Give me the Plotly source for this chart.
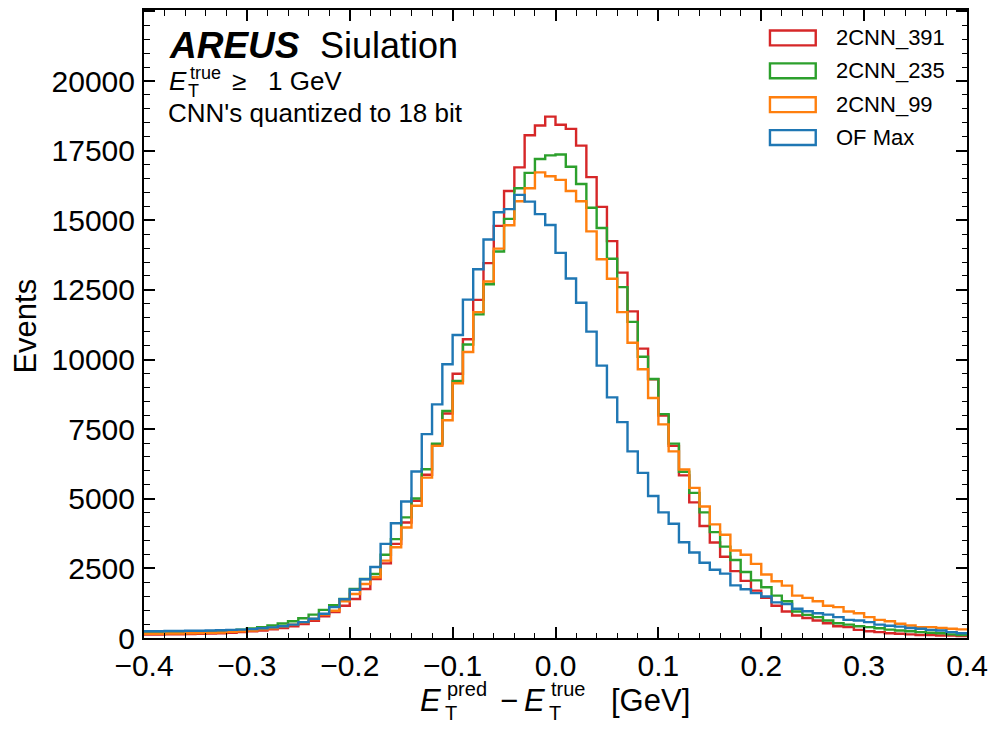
import plotly.graph_objects as go
import numpy as np

# bin edges: -0.40 .. 0.40 in steps of 0.01 (80 bins)
bin_lo = -0.40
bin_w = 0.01
n_bins = 80

# counts per bin (in thousands)
cnn391 = [0.12, 0.12, 0.13, 0.13, 0.14, 0.15, 0.16, 0.17, 0.19, 0.21,
          0.24, 0.27, 0.31, 0.36, 0.42, 0.50, 0.62, 0.78, 0.93, 1.16,
          1.40, 1.76, 2.12, 2.68, 3.38, 4.15, 4.93, 5.86, 6.95, 8.06,
          9.49, 10.73, 12.14, 13.46, 14.80, 16.05, 16.90, 18.05, 18.40, 18.72,
          18.43, 18.28, 17.68, 16.55, 15.48, 14.25, 13.12, 11.73, 10.39, 9.29,
          7.99, 6.90, 5.84, 4.87, 4.02, 3.43, 2.92, 2.40, 2.05, 1.70,
          1.44, 1.16, 0.95, 0.81, 0.72, 0.63, 0.53, 0.42, 0.39, 0.29,
          0.24, 0.21, 0.17, 0.15, 0.13, 0.11, 0.11, 0.09, 0.09, 0.07]

cnn235 = [0.18, 0.19, 0.19, 0.20, 0.21, 0.22, 0.23, 0.25, 0.27, 0.30,
          0.34, 0.39, 0.45, 0.52, 0.60, 0.71, 0.84, 1.01, 1.18, 1.40,
          1.76, 2.12, 2.30, 2.99, 3.55, 4.33, 5.01, 6.06, 6.98, 8.15,
          9.23, 10.54, 11.62, 12.70, 13.88, 15.05, 16.15, 16.70, 17.20, 17.33,
          17.36, 16.92, 16.30, 15.45, 14.72, 13.62, 12.60, 11.35, 10.10, 9.30,
          8.04, 6.98, 5.97, 5.21, 4.51, 3.80, 3.28, 2.80, 2.37, 2.07,
          1.82, 1.52, 1.32, 0.95, 0.83, 0.75, 0.63, 0.53, 0.48, 0.42,
          0.39, 0.35, 0.30, 0.27, 0.24, 0.21, 0.19, 0.17, 0.13, 0.11]

cnn99 = [0.15, 0.15, 0.16, 0.16, 0.17, 0.18, 0.19, 0.20, 0.22, 0.24,
         0.27, 0.31, 0.35, 0.41, 0.48, 0.56, 0.68, 0.84, 0.98, 1.32,
         1.58, 1.94, 2.18, 2.78, 3.26, 3.97, 4.75, 5.76, 6.90, 7.82,
         9.15, 10.27, 11.70, 12.80, 13.98, 14.82, 15.68, 16.15, 16.72, 16.58,
         16.45, 16.05, 15.68, 14.60, 13.60, 12.90, 11.70, 10.60, 9.65, 8.62,
         7.67, 6.70, 6.05, 5.39, 4.72, 4.08, 3.71, 3.14, 2.99, 2.66,
         2.28, 2.04, 1.88, 1.52, 1.44, 1.32, 1.16, 1.11, 0.95, 0.89,
         0.75, 0.65, 0.60, 0.51, 0.45, 0.39, 0.39, 0.36, 0.33, 0.31]

ofmax = [0.24, 0.24, 0.25, 0.25, 0.26, 0.26, 0.27, 0.28, 0.29, 0.30,
         0.32, 0.35, 0.38, 0.42, 0.48, 0.57, 0.69, 0.87, 1.11, 1.39,
         1.73, 2.11, 2.55, 3.38, 4.12, 4.90, 5.98, 7.32, 8.39, 9.83,
         10.88, 12.15, 13.24, 14.31, 15.29, 15.40, 15.91, 15.67, 15.22, 14.83,
         13.83, 12.91, 12.04, 11.00, 9.78, 8.64, 7.75, 6.70, 5.93, 5.10,
         4.51, 4.10, 3.44, 3.07, 2.70, 2.45, 2.31, 1.89, 1.75, 1.61,
         1.49, 1.28, 1.22, 1.05, 0.96, 0.89, 0.84, 0.75, 0.65, 0.63,
         0.57, 0.48, 0.44, 0.41, 0.36, 0.33, 0.29, 0.27, 0.21, 0.17]

series_names = ["2CNN_391", "2CNN_235", "2CNN_99", "OF Max"]
series_vals = [cnn391, cnn235, cnn99, ofmax]
series_colors = ["#d62728", "#2ca02c", "#ff7f0e", "#1f77b4"]

edges = [round(bin_lo + i * bin_w, 4) for i in range(n_bins + 1)]

W, H = 996, 729
L, R, T, B = 144, 971, 8, 638
Y_MAX = 22550


def px(x):
    return (x - L) / (R - L)


def py(y):
    return (B - y) / (B - T)


fig = go.Figure()
for name, vals, col in zip(series_names, series_vals, series_colors):
    counts = [v * 1000 for v in vals]
    fig.add_trace(go.Scatter(
        x=edges, y=counts + [counts[-1]], mode="lines",
        line=dict(color=col, width=2.4, shape="hv"),
        name=name, showlegend=False, hoverinfo="skip"))

# dummy trace for mirrored top/right axes
fig.add_trace(go.Scatter(x=[], y=[], xaxis="x2", yaxis="y2", showlegend=False))

FONT = "Liberation Sans, Arial, sans-serif"
tickfont = dict(family=FONT, size=30, color="black")

fig.update_layout(
    width=W, height=H,
    margin=dict(l=L, r=W - R, t=T, b=H - B, pad=0),
    plot_bgcolor="white", paper_bgcolor="white",
    showlegend=False,
    xaxis=dict(range=[-0.4, 0.4], tick0=-0.4, dtick=0.1, tickformat=".1f",
               ticks="inside", ticklen=11, tickwidth=1.6, tickcolor="black",
               minor=dict(dtick=0.02, tick0=-0.4, ticks="inside", ticklen=5.5,
                          tickwidth=1.2, tickcolor="black", showgrid=False),
               showline=True, linecolor="black", linewidth=2, mirror=True,
               showgrid=False, zeroline=False, tickfont=tickfont,
               ticklabelstandoff=0),
    yaxis=dict(range=[0, Y_MAX], tick0=0, dtick=2500, tickformat="d",
               ticks="inside", ticklen=11, tickwidth=1.6, tickcolor="black",
               minor=dict(dtick=500, tick0=0, ticks="inside", ticklen=5.5,
                          tickwidth=1.2, tickcolor="black", showgrid=False),
               showline=True, linecolor="black", linewidth=2, mirror=True,
               showgrid=False, zeroline=False, tickfont=tickfont,
               ticklabelstandoff=1),
    xaxis2=dict(range=[-0.4, 0.4], overlaying="x", side="top", tick0=-0.4, dtick=0.1,
                ticks="inside", ticklen=11, tickwidth=1.6, tickcolor="black",
                minor=dict(dtick=0.02, tick0=-0.4, ticks="inside", ticklen=5.5,
                           tickwidth=1.2, tickcolor="black"),
                showticklabels=False, showgrid=False, zeroline=False, showline=False),
    yaxis2=dict(range=[0, Y_MAX], overlaying="y", side="right", tick0=0, dtick=2500,
                ticks="inside", ticklen=11, tickwidth=1.6, tickcolor="black",
                minor=dict(dtick=500, tick0=0, ticks="inside", ticklen=5.5,
                           tickwidth=1.2, tickcolor="black"),
                showticklabels=False, showgrid=False, zeroline=False, showline=False),
)

ann = []


def text(x, y, s, size, xanchor="left", yanchor="middle", angle=0):
    ann.append(dict(x=px(x), y=py(y), xref="paper", yref="paper", text=s,
                    showarrow=False, xanchor=xanchor, yanchor=yanchor,
                    textangle=angle, font=dict(family=FONT, size=size, color="black")))


# experiment label
text(167, 44, "<b><i>AREUS</i></b>", 37)
text(319, 44, "Siulation", 36)
# E_T^true >= 1 GeV
text(167, 79, "<i>E</i>", 26)
text(188, 71, "true", 18)
text(186, 89, "T", 18)
text(230, 79, "\u2265", 26)
text(267, 79, "1 GeV", 26)
text(166, 111, "CNN's quantized to 18 bit", 26)

# y-axis title
text(25, 325, "Events", 31, xanchor="center", angle=-90)

# x-axis title: E_T^pred - E_T^true [GeV]
xt_y = 701
text(419, xt_y, "<i>E</i>", 31)
text(446, xt_y - 12, "pred", 20)
text(444, xt_y + 12, "T", 20)
text(500, xt_y, "\u2212", 31)
text(524, xt_y, "<i>E</i>", 31)
text(551, xt_y - 12, "true", 20)
text(549, xt_y + 12, "T", 20)
text(611, xt_y, "[GeV]", 31)

# legend (manual)
shapes = []
leg_y = [36, 69, 103, 136]
for name, col, yy in zip(series_names, series_colors, leg_y):
    shapes.append(dict(type="rect", xref="paper", yref="paper",
                       x0=px(773), x1=px(819), y0=py(yy - 7.5), y1=py(yy + 7.5),
                       line=dict(color=col, width=2.4), fillcolor="rgba(0,0,0,0)"))
    text(837, yy, name, 22)

fig.update_layout(annotations=ann, shapes=shapes)
fig.write_html("out.html")
